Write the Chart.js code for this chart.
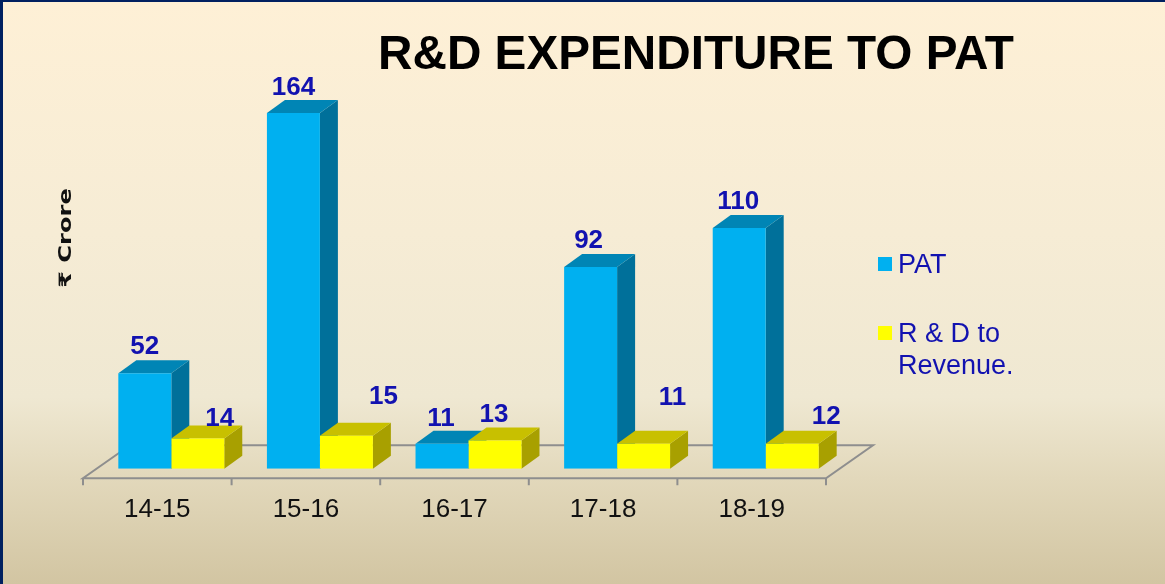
<!DOCTYPE html>
<html>
<head>
<meta charset="utf-8">
<script src="https://cdn.jsdelivr.net/npm/chart.js@4/dist/chart.umd.min.js"></script>
<style>
html,body{margin:0;padding:0;width:1165px;height:584px;overflow:hidden}
body{background:linear-gradient(180deg,#FEF0D6 0%,#F6ECD5 40%,#EFE8D2 68%,#E2D8BB 82%,#D2C5A2 100%);position:relative}
#frameTop{position:absolute;left:0;top:0;width:1165px;height:2px;background:#002060}
#frameLeft{position:absolute;left:0;top:0;width:3px;height:584px;background:#002060}
canvas{position:absolute;left:0;top:0}
</style>
</head>
<body>
<canvas id="c" width="1165" height="584"></canvas>
<div id="frameTop"></div><div id="frameLeft"></div>
<script>
const categories = ['14-15','15-16','16-17','17-18','18-19'];
// Printed values, as labelled on the reference
const patLabels = ['52','164','11','92','110'];
const rdLabels  = ['14','15','13','11','12'];
// Bar heights (the "52" bar is drawn shorter than its label)
const patHeights = [44,164,11.5,93,111];
const rdHeights  = [14,15.2,13,11.5,11.5];
const titleText = 'R&D EXPENDITURE TO PAT';
const yAxisText = '₹ Crore';
const seriesNames = ['PAT','R & D to Revenue.'];

const FONT = '"Liberation Sans", Arial, sans-serif';
const DEPTH = {dx:18, dy:-13};
const FLOOR = {frontDx:-14, frontDy:9.5};
const LABEL_COLOR = '#1212B0';
const faces = [
  {side:'#00709A', top:'#0085B5'},
  {side:'#A8A000', top:'#C8C000'}
];
// Hand placement of the value labels relative to each bar's front-top centre
const labelNudge = [
  [[0,-27],[0,-25],[-1,-25],[-2,-26],[-1,-26]],
  [[22,-20],[37,-39],[-1,-26],[29,-46],[34,-27]]
];

const depthPlugin = {
  id:'depth',
  beforeDatasetsDraw(chart){
    const {ctx, chartArea:a} = chart;
    const n = categories.length;
    const step = (a.right-a.left)/n;
    const fl = a.left+FLOOR.frontDx, fr = a.right+FLOOR.frontDx, fy = a.bottom+FLOOR.frontDy;
    ctx.save();
    // Floor plane
    ctx.strokeStyle = '#8E8E8E';
    ctx.lineWidth = 2;
    ctx.beginPath();
    ctx.moveTo(fl+47, fy-33);
    ctx.lineTo(fl, fy);
    ctx.lineTo(fr, fy);
    ctx.lineTo(fr+47, fy-33);
    ctx.lineTo(fl+47, fy-33);
    ctx.stroke();
    ctx.beginPath();
    for(let i=0;i<=n;i++){
      const tx = fl+i*step;
      ctx.moveTo(tx, fy); ctx.lineTo(tx, fy+7);
    }
    ctx.stroke();
    // Side and top faces of each bar
    [0,1].forEach(d=>{
      chart.getDatasetMeta(d).data.forEach(b=>{
        const l=b.x-b.width/2, r=b.x+b.width/2, t=b.y, bt=b.base;
        ctx.fillStyle = faces[d].side;
        ctx.beginPath();
        ctx.moveTo(r,t); ctx.lineTo(r+DEPTH.dx,t+DEPTH.dy);
        ctx.lineTo(r+DEPTH.dx,bt+DEPTH.dy); ctx.lineTo(r,bt);
        ctx.closePath(); ctx.fill();
        ctx.fillStyle = faces[d].top;
        ctx.beginPath();
        ctx.moveTo(l,t); ctx.lineTo(l+DEPTH.dx,t+DEPTH.dy);
        ctx.lineTo(r+DEPTH.dx,t+DEPTH.dy); ctx.lineTo(r,t);
        ctx.closePath(); ctx.fill();
      });
    });
    ctx.restore();
  },
  afterDatasetsDraw(chart){
    const {ctx} = chart;
    ctx.save();
    // Value labels
    ctx.font = 'bold 26px '+FONT;
    ctx.fillStyle = LABEL_COLOR;
    ctx.textAlign = 'center';
    ctx.textBaseline = 'middle';
    [patLabels, rdLabels].forEach((labels,d)=>{
      chart.getDatasetMeta(d).data.forEach((b,i)=>{
        const nudge = labelNudge[d][i];
        ctx.fillText(labels[i], b.x+nudge[0], b.y+nudge[1]);
      });
    });
    // Title
    ctx.font = 'bold 47.7px '+FONT;
    ctx.fillStyle = '#000';
    ctx.fillText(titleText, 696, 56);
    // Y axis caption
    ctx.save();
    ctx.translate(67,238);
    ctx.rotate(-Math.PI/2);
    ctx.scale(1.42,1);
    ctx.font = 'bold 17px "DejaVu Sans", sans-serif';
    ctx.fillStyle = '#111';
    ctx.fillText(yAxisText, 0, 0);
    ctx.restore();
    // Legend
    ctx.textAlign = 'left';
    ctx.font = '27px '+FONT;
    ctx.fillStyle = '#00B0F0';
    ctx.fillRect(878,257,14,14);
    ctx.fillStyle = '#FFFF00';
    ctx.fillRect(878,326,14,14);
    ctx.fillStyle = LABEL_COLOR;
    ctx.fillText(seriesNames[0], 898, 266);
    const words = seriesNames[1].split(' ');
    ctx.fillText(words.slice(0,4).join(' '), 898, 335);
    ctx.fillText(words[4], 898, 367);
    ctx.restore();
  }
};

new Chart(document.getElementById('c'),{
  type:'bar',
  data:{
    labels:categories,
    datasets:[
      {label:seriesNames[0], data:patHeights, backgroundColor:'#00B0F0'},
      {label:seriesNames[1], data:rdHeights, backgroundColor:'#FFFF00'}
    ]
  },
  options:{
    responsive:false,
    animation:false,
    categoryPercentage:0.713,
    barPercentage:1,
    layout:{padding:{left:97,right:325,top:35,bottom:42}},
    plugins:{legend:{display:false},title:{display:false},tooltip:{enabled:false}},
    scales:{
      x:{
        grid:{display:false},
        border:{display:false},
        ticks:{color:'#111',font:{family:FONT,size:26},labelOffset:-14,padding:17,maxRotation:0,autoSkip:false}
      },
      y:{display:false,min:0,max:200}
    }
  },
  plugins:[depthPlugin]
});
</script>
</body>
</html>
